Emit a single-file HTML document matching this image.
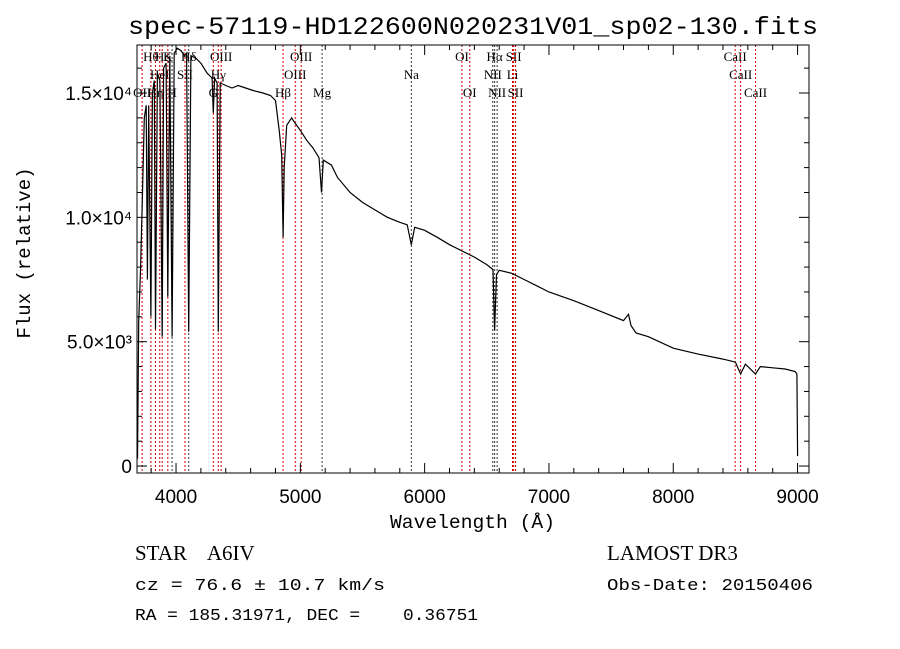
<!DOCTYPE html>
<html><head><meta charset="utf-8"><style>
body{margin:0;background:#fff;}
svg{display:block;font-family:"Liberation Serif",serif;}
text{white-space:pre;}
.ax{font-family:"Liberation Sans",sans-serif;font-size:19px;}
.mono{font-family:"Liberation Mono",monospace;}
</style></head><body>
<svg id="chart" width="900" height="649" xmlns="http://www.w3.org/2000/svg" xml:space="preserve">
<text x="128" y="34" textLength="690" lengthAdjust="spacingAndGlyphs" class="mono" font-size="25">spec-57119-HD122600N020231V01_sp02-130.fits</text>
<g id="lines"></g>
<g id="spec"></g>
<rect x="137" y="45" width="672" height="428" fill="none" stroke="#000" stroke-width="1"/>
<g id="axes"></g>
<text x="390" y="528" textLength="165" lengthAdjust="spacingAndGlyphs" class="mono" font-size="19">Wavelength (Å)</text>
<text transform="translate(30,253) rotate(-90)" text-anchor="middle" class="mono" font-size="19">Flux (relative)</text>
<text x="135" y="560" font-size="21">STAR    A6IV</text>
<text x="135" y="590" textLength="250" lengthAdjust="spacingAndGlyphs" class="mono" font-size="17">cz = 76.6 ± 10.7 km/s</text>
<text x="135" y="620" textLength="343" lengthAdjust="spacingAndGlyphs" class="mono" font-size="17">RA = 185.31971, DEC =    0.36751</text>
<text x="607" y="560" font-size="21">LAMOST DR3</text>
<text x="607" y="590" textLength="206" lengthAdjust="spacingAndGlyphs" class="mono" font-size="17">Obs-Date: 20150406</text>
</svg>
<script>
const wave=[3690,3700,3715,3730,3745,3760,3770,3780,3798,3810,3825,3835,3850,3870,3889,3900,3920,3934,3950,3968,3985,4010,4040,4070,4085,4102,4120,4160,4200,4250,4290,4300,4310,4330,4340,4355,4400,4450,4500,4560,4620,4700,4760,4800,4830,4850,4861,4870,4890,4930,4970,5000,5050,5100,5150,5170,5185,5250,5300,5400,5500,5600,5700,5800,5860,5893,5920,6000,6100,6200,6300,6400,6500,6550,6563,6578,6600,6700,6800,6900,7000,7200,7400,7600,7640,7660,7700,7800,8000,8200,8400,8500,8542,8580,8662,8700,8800,8900,8980,8995,9000];
const flux=[300,5800,8000,11000,14000,14500,7500,14500,6000,15000,15500,5500,15800,15500,5200,16000,16200,6800,16500,5200,16600,16800,16700,16500,16600,5400,16500,16400,16200,15800,15600,14200,15600,15400,5400,15400,15300,15200,15300,15200,15100,15000,14900,14700,13500,12500,9200,12000,13700,14000,13700,13500,13100,12800,12400,11000,12300,12100,11600,11000,10600,10300,10000,9800,9700,8900,9600,9480,9200,8900,8650,8400,8100,7900,5460,7700,7870,7750,7500,7250,7000,6650,6250,5850,6100,5650,5350,5200,4740,4500,4300,4180,3700,4100,3700,4000,3950,3900,3800,3700,400];
const lineWaves=[3727,3798,3835,3869,3889,3934,3968,4072,4102,4300,4340,4363,4861,4959,5007,5175,5893,6300,6363,6548,6563,6583,6707,6716,6731,8498,8542,8662];
const lineColors=["r","r","r","r","r","r","k","r","k","r","r","r","r","r","r","k","k","r","r","k","k","k","r","r","r","r","r","r"];
const labelText=["OII","Hθ","Hη","HeI","Hζ","K","H","SII","Hδ","G","Hγ","OIII","Hβ","OIII","OIII","Mg","Na","OI","OI","NII","Hα","NII","Li","SII","SII","CaII","CaII","CaII"];
const labelRow=[2,0,2,1,0,0,2,1,0,2,1,0,2,1,0,2,1,0,2,1,0,2,1,0,2,0,1,2];
const xTicks=[4000,5000,6000,7000,8000,9000];
const yTicks=[0,5000,10000,15000];
const yTickLabels=["0","5.0×10³","1.0×10⁴","1.5×10⁴"];
const X0=137,X1=809,Y0=45,Y1=473,WMIN=3686,WMAX=9092,FMIN=-280,FMAX=16930;
function xs(w){return X0+(w-WMIN)/(WMAX-WMIN)*(X1-X0);}
function ys(f){return Y1-(f-FMIN)/(FMAX-FMIN)*(Y1-Y0);}
const NS="http://www.w3.org/2000/svg";
function mk(t,a,p){const e=document.createElementNS(NS,t);for(const k in a)e.setAttribute(k,a[k]);p.appendChild(e);return e;}
const gl=document.getElementById('lines');
lineWaves.forEach((w,i)=>{
  const l=mk('line',{x1:xs(w),x2:xs(w),y1:Y0,y2:Y1,stroke:lineColors[i]=="r"?"#c00":"#333","stroke-width":1,"stroke-dasharray":"2,2"},gl);
  
  
  const t=mk('text',{x:xs(w),y:61+labelRow[i]*18,"text-anchor":"middle","font-size":"13"},gl);
  t.textContent=labelText[i];
  
  
});
const gs=document.getElementById('spec');
let d="";wave.forEach((w,i)=>{d+=(i?"L":"M")+xs(w).toFixed(1)+","+ys(flux[i]).toFixed(1);});
const p=mk('path',{d:d,fill:"none",stroke:"#000","stroke-width":1.2},gs);


const ga=document.getElementById('axes');
for(let w=3800;w<=9000;w+=200){
  const maj=w%1000==0,h=maj?10:5;
  const a=mk('line',{x1:xs(w),x2:xs(w),y1:Y1,y2:Y1-h,stroke:"#000"},ga);
  const b=mk('line',{x1:xs(w),x2:xs(w),y1:Y0,y2:Y0+h,stroke:"#000"},ga);
}
xTicks.forEach(w=>{const t=mk('text',{x:xs(w),y:503,"text-anchor":"middle",class:"ax"},ga);t.textContent=w;
  });
for(let f=0;f<=16000;f+=1000){
  const maj=f%5000==0,h=maj?10:5;
  const a=mk('line',{x1:X0,x2:X0+h,y1:ys(f),y2:ys(f),stroke:"#000"},ga);
  const b=mk('line',{x1:X1,x2:X1-h,y1:ys(f),y2:ys(f),stroke:"#000"},ga);
}
yTicks.forEach((f,i)=>{const t=mk('text',{x:X0-5,y:ys(f)+7,"text-anchor":"end",class:"ax"},ga);t.textContent=yTickLabels[i];
  });
</script>
</body></html>
